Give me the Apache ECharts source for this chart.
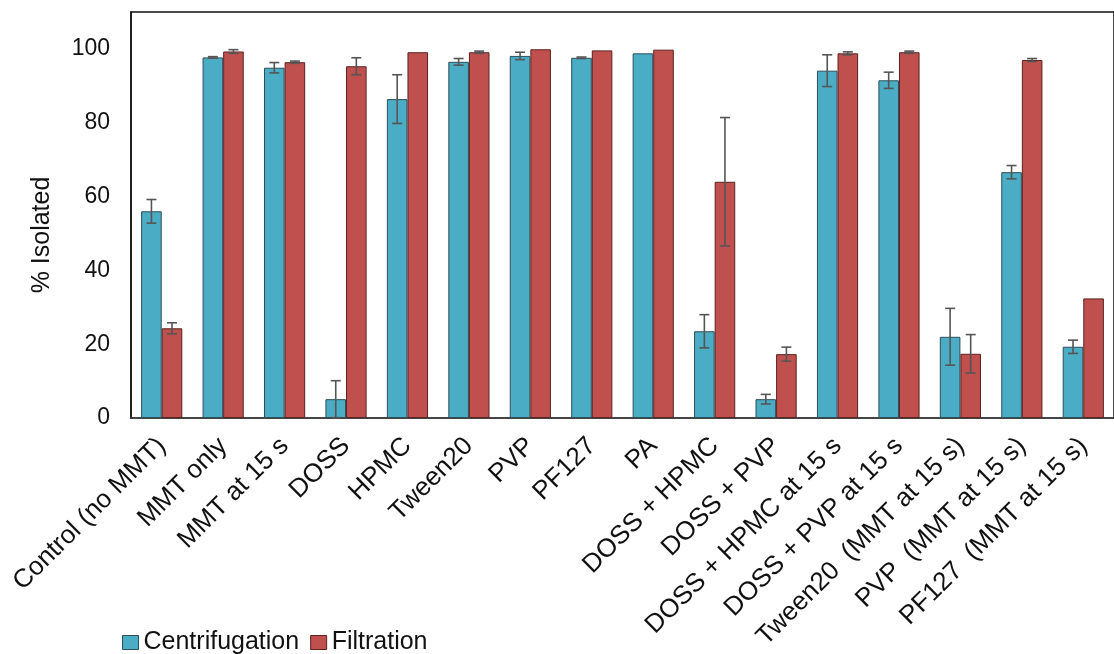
<!DOCTYPE html>
<html>
<head>
<meta charset="utf-8">
<script src="https://cdn.jsdelivr.net/npm/echarts@6/dist/echarts.min.js"></script>
<style>html,body{margin:0;padding:0;background:#fff;}#c{width:1114px;height:654px;}</style>
</head>
<body>
<div id="c"></div>
<script>
const categories = ['Control (no MMT)','MMT only','MMT at 15 s','DOSS','HPMC','Tween20','PVP','PF127','PA','DOSS + HPMC','DOSS + PVP','DOSS + HPMC at 15 s','DOSS + PVP at 15 s','Tween20  (MMT at 15 s)','PVP  (MMT at 15 s)','PF127  (MMT at 15 s)'];
const centrifugation = [56.0, 97.7, 94.9, 5.1, 86.4, 96.5, 98.1, 97.6, 98.8, 23.5, 5.1, 94.1, 91.5, 22.0, 66.6, 19.3];
const centrifugationErr = [3.2, 0.2, 1.4, 5.0, 6.6, 0.9, 1.0, 0.2, 0, 4.5, 1.3, 4.3, 2.2, 7.7, 1.8, 1.8];
const filtration = [24.3, 99.3, 96.4, 95.3, 99.1, 99.1, 99.9, 99.6, 99.8, 64.0, 17.3, 98.8, 99.1, 17.4, 97.0, 32.4];
const filtrationErr = [1.5, 0.5, 0.3, 2.3, 0, 0.3, 0, 0, 0, 17.4, 1.9, 0.4, 0.3, 5.2, 0.4, 0];
const yTicks = [0, 20, 40, 60, 80, 100];

const CAT_GAP = 0.33;
function errSeries(vals, errs, side) {
  return {
    type: 'custom',
    z: 5,
    silent: true,
    data: vals.map((v, i) => [i, v, errs[i]]),
    renderItem: function (params, api) {
      const i = api.value(0), v = api.value(1), e = api.value(2);
      if (!e) return null;
      const band = api.size([1, 0])[0];
      const bw = band * (1 - CAT_GAP) / 2;
      const c = api.coord([i, v]);
      const x = c[0] + side * bw / 2;
      const hi = api.coord([i, v + e])[1];
      const lo = api.coord([i, Math.max(0, v - e)])[1];
      const cap = 5;
      const style = { stroke: '#555', lineWidth: 1.6 };
      return {
        type: 'group',
        children: [
          { type: 'line', shape: { x1: x, y1: hi, x2: x, y2: lo }, style: style },
          { type: 'line', shape: { x1: x - cap, y1: hi, x2: x + cap, y2: hi }, style: style },
          { type: 'line', shape: { x1: x - cap, y1: lo, x2: x + cap, y2: lo }, style: style }
        ]
      };
    }
  };
}

const FONT = 'Liberation Sans, Arial, sans-serif';
const chart = echarts.init(document.getElementById('c'));
chart.setOption({
  animation: false,
  textStyle: { fontFamily: FONT },
  grid: { left: 131, top: 12, width: 992, height: 406, show: true, borderColor: '#111', borderWidth: 1.5, backgroundColor: 'transparent' },
  legend: {
    left: 117, top: 625,
    icon: 'rect',
    itemWidth: 16, itemHeight: 14, itemGap: 11,
    textStyle: { fontSize: 25, color: '#111', fontFamily: FONT },
    data: [
      { name: 'Centrifugation', itemStyle: { color: '#4BACC6', borderColor: '#2d4f58', borderWidth: 1 } },
      { name: 'Filtration', itemStyle: { color: '#C0504D', borderColor: '#5a2220', borderWidth: 1 } }
    ]
  },
  xAxis: {
    type: 'category',
    data: categories,
    axisLine: { show: true, lineStyle: { color: '#444', width: 1.5 } },
    axisTick: { show: false },
    axisLabel: { rotate: 45, interval: 0, fontSize: 26, color: '#111', margin: 24 }
  },
  yAxis: {
    type: 'value',
    min: 0, max: 110, interval: 20,
    name: '% Isolated',
    nameLocation: 'middle',
    nameGap: 76,
    nameTextStyle: { fontSize: 25, color: '#111', padding: [0, 40, 0, 0] },
    axisLine: { show: true, lineStyle: { color: '#111', width: 1.5 } },
    axisTick: { show: false },
    splitLine: { show: false },
    axisLabel: {
      fontSize: 23, color: '#111', margin: 21,
      formatter: v => (yTicks.indexOf(v) >= 0 ? String(v) : '')
    }
  },
  series: [
    {
      name: 'Centrifugation', type: 'bar', data: centrifugation,
      barGap: '0%', barCategoryGap: (CAT_GAP * 100) + '%',
      itemStyle: { color: '#4BACC6', borderColor: '#2d4f58', borderWidth: 1 }
    },
    {
      name: 'Filtration', type: 'bar', data: filtration,
      barGap: '0%', barCategoryGap: (CAT_GAP * 100) + '%',
      itemStyle: { color: '#C0504D', borderColor: '#5a2220', borderWidth: 1 }
    },
    errSeries(centrifugation, centrifugationErr, -1),
    errSeries(filtration, filtrationErr, 1)
  ]
});
</script>
</body>
</html>
